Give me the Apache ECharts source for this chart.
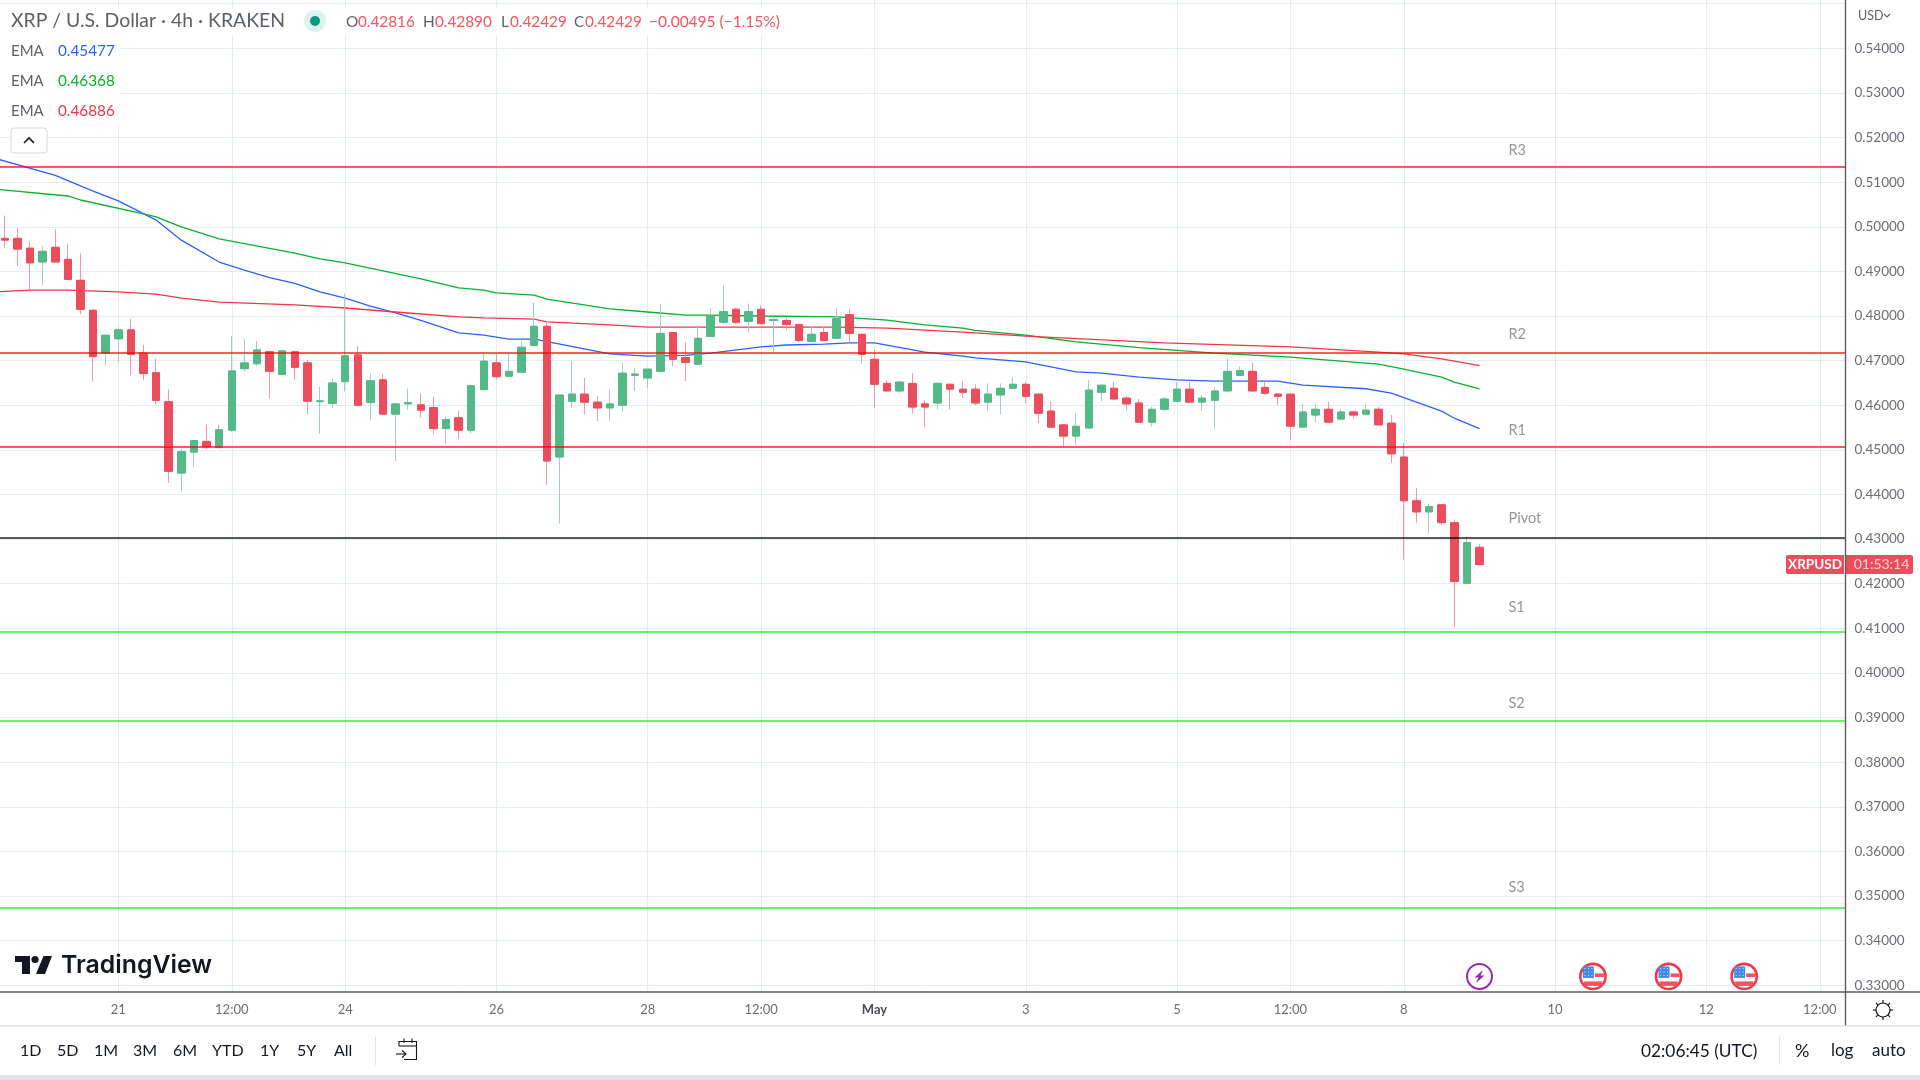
<!DOCTYPE html>
<html>
<head>
<meta charset="utf-8">
<title>XRP / U.S. Dollar</title>
<script src="https://cdn.jsdelivr.net/npm/echarts@6/dist/echarts.min.js"></script>
<style>
  html, body { margin: 0; padding: 0; background: #fff; }
  #main { width: 1920px; height: 1080px; }
</style>
</head>
<body>
<div id="main"></div>
<script>
// 4h candles (index 0 is the first candle on the left)
const candleOpen = [
  .4974,.4974,.4952,.4921,.4954,.4927,.4880,.4813,.4716,.4749,.4769,.4717,.4673,.4608,.4448,.4495,.4519,.4505,.4544,.4682,
  .4693,.4720,.4669,.4720,.4695,.4608,.4604,.4653,.4713,.4606,.4657,.4580,.4603,.4601,.4595,.4548,.4572,.4544,.4635,.4695,
  .4665,.4674,.4734,.4777,.4484,.4609,.4625,.4607,.4594,.4600,.4667,.4661,.4676,.4763,.4707,.4692,.4754,.4786,.4815,.4788,
  .4815,.4790,.4790,.4781,.4743,.4763,.4750,.4803,.4759,.4703,.4649,.4632,.4649,.4603,.4605,.4647,.4636,.4636,.4607,.4623,
  .4638,.4647,.4625,.4587,.4556,.4531,.4549,.4629,.4638,.4616,.4605,.4562,.4591,.4609,.4636,.4607,.4611,.4632,.4667,.4676,
  .4640,.4625,.4625,.4551,.4578,.4591,.4569,.4585,.4580,.4591,.4560,.4484,.4386,.4361,.4377,.4337,.4201,.42816
]
const candleClose = [
  .4970,.4950,.4919,.4945,.4921,.4882,.4815,.4709,.4757,.4769,.4714,.4671,.4611,.4452,.4496,.4521,.4507,.4545,.4677,.4695,
  .4724,.4676,.4722,.4685,.4609,.4610,.4650,.4711,.4600,.4655,.4580,.4603,.4606,.4589,.4548,.4568,.4544,.4644,.4699,.4664,
  .4676,.4730,.4777,.4475,.4623,.4625,.4607,.4594,.4603,.4672,.4670,.4681,.4761,.4703,.4696,.4750,.4801,.4810,.4786,.4810,
  .4783,.4792,.4781,.4745,.4759,.4745,.4794,.4761,.4714,.4647,.4632,.4652,.4596,.4596,.4649,.4636,.4629,.4605,.4625,.4638,
  .4647,.4620,.4582,.4551,.4531,.4553,.4634,.4645,.4614,.4603,.4562,.4591,.4614,.4636,.4607,.4616,.4632,.4676,.4678,.4632,
  .4627,.4620,.4553,.4585,.4591,.4562,.4585,.4578,.4589,.4556,.4491,.4386,.4361,.4373,.4337,.4205,.42924,.42429
]
const candleLow = [
  .4952,.4912,.4858,.4870,.4921,.4880,.4804,.4653,.4689,.4696,.4667,.4656,.4602,.4426,.4408,.4461,.4501,.4505,.4540,.4676,
  .4687,.4615,.4669,.4658,.4580,.4537,.4593,.4631,.4600,.4566,.4580,.4475,.4591,.4573,.4535,.4513,.4524,.4537,.4635,.4658,
  .4665,.4674,.4734,.4422,.4335,.4594,.4580,.4565,.4565,.4585,.4632,.4638,.4676,.4687,.4654,.4690,.4754,.4781,.4781,.4763,
  .4781,.4719,.4768,.4741,.4743,.4745,.4748,.4741,.4694,.4594,.4632,.4627,.4582,.4551,.4591,.4591,.4616,.4600,.4587,.4580,
  .4638,.4605,.4560,.4551,.4507,.4511,.4549,.4609,.4611,.4589,.4562,.4553,.4587,.4609,.4607,.4587,.4547,.4632,.4667,.4632,
  .4623,.4600,.4522,.4551,.4562,.4562,.4569,.4571,.4580,.4556,.4471,.4254,.4337,.4312,.4332,.4103,.4201,.42429
]
const candleHigh = [
  .5025,.4998,.4967,.4956,.4994,.4963,.4940,.4813,.4757,.4775,.4793,.4735,.4704,.4635,.4502,.4523,.4557,.4557,.4755,.4749,
  .4744,.4722,.4722,.4722,.4702,.4641,.4659,.4850,.4733,.4670,.4670,.4605,.4637,.4626,.4619,.4574,.4588,.4644,.4717,.4715,
  .4716,.4745,.4830,.4788,.4623,.4699,.4661,.4620,.4636,.4694,.4683,.4681,.4826,.4763,.4741,.4779,.4817,.4868,.4819,.4828,
  .4824,.4797,.4795,.4781,.4777,.4777,.4817,.4815,.4759,.4725,.4656,.4654,.4672,.4611,.4652,.4649,.4654,.4647,.4649,.4649,
  .4663,.4652,.4625,.4609,.4558,.4582,.4656,.4645,.4652,.4620,.4614,.4596,.4618,.4652,.4652,.4623,.4640,.4705,.4687,.4696,
  .4652,.4627,.4625,.4603,.4603,.4607,.4591,.4587,.4603,.4596,.4578,.4515,.4415,.4379,.4379,.4344,.4306,.42890
]

// EMA lines: candle index and value where the line could be read
const emaBlueIdx = [-1,4,7,9,12,14,17,19,21,23,25,27,29,31,33,36,38,40,42,48,51,54,56,60,62,65,67,69,73,76,77,81,85,87,90,93,96,101,103,108,110,114,115,117]
const emaBlue = [.5155,.5115,.5080,.5058,.5015,.4970,.4921,.4903,.4886,.4873,.4854,.4840,.4822,.4807,.4790,.4762,.4757,.4748,.4748,.4715,.4710,.4712,.4717,.4731,.4735,.4737,.4740,.4740,.4719,.4710,.4706,.4697,.4675,.4672,.4663,.4657,.4654,.4654,.4645,.4637,.4627,.4587,.4571,.45477]
const emaGreenIdx = [-1,5,6,11,12,14,17,23,25,27,30,33,36,38,39,42,43,48,51,54,56,60,66,70,73,76,77,81,85,90,96,102,109,111,114,115,117]
const emaGreen = [.5085,.5069,.5060,.5029,.5022,.5000,.4973,.4941,.4928,.4919,.4901,.4883,.4863,.4858,.4852,.4847,.4838,.4816,.4809,.4802,.4802,.4800,.4798,.4791,.4780,.4773,.4768,.4757,.4742,.4729,.4717,.4708,.4692,.4681,.4663,.4652,.46368]
const emaRedIdx = [-1,2,5,9,12,14,17,23,27,31,36,38,42,43,48,51,57,66,70,76,77,81,92,102,109,111,114,117]
const emaRed = [.4854,.4858,.4858,.4854,.4849,.4840,.4831,.4825,.4818,.4809,.4798,.4796,.4793,.4787,.4780,.4775,.4775,.4775,.4773,.4764,.4762,.4755,.4740,.4731,.4719,.4715,.4704,.46886]

// pivot levels and where their names sit
const levelNames = ['R3', 'R2', 'R1', 'Pivot', 'S1', 'S2', 'S3']
const levelPrices = [.5135, .4717, .4506, .4303, .4093, .3892, .3473]
const levelNamePrices = [.5172, .4760, .4544, .4347, .4148, .3933, .3519]
const levelNameIdx = 119.3

// axis ticks
const priceGrid = [.33,.34,.35,.36,.37,.38,.39,.40,.41,.42,.43,.44,.45,.46,.47,.48,.49,.50,.51,.52,.53,.54,.55]
const priceLabels = [.33,.34,.35,.36,.37,.38,.39,.40,.41,.42,.43,.44,.45,.46,.47,.48,.49,.50,.51,.52,.53,.54]
const timeTickIdx = [9, 18, 27, 39, 51, 60, 69, 81, 93, 102, 111, 123, 135, 144]
const timeTickLabels = ['21', '12:00', '24', '26', '28', '12:00', 'May', '3', '5', '12:00', '8', '10', '12', '12:00']

// economic calendar markers under the candles
const eventIdx = [117, 126, 132, 138]
const eventKinds = [0, 1, 1, 1]
const eventPrice = .3320

const FONT = 'Lato, "Noto Sans", sans-serif'
const TOP_Z = 100

const chart = echarts.init(document.getElementById('main'))

const candleIdx = candleOpen.map((_, i) => i)
const wickData = candleIdx.map(i => [i, candleOpen[i], candleClose[i], candleLow[i], candleHigh[i]])
const bodyData = candleIdx.map(i => [
  i, candleOpen[i], candleClose[i],
  Math.min(candleOpen[i], candleClose[i]), Math.max(candleOpen[i], candleClose[i])
])

const pairUp = (xs, ys) => xs.map((x, i) => [x, ys[i]])

const levelColor = (name) => {
  if (name[0] === 'R') return 'rgba(255,0,0,0.65)'
  if (name[0] === 'S') return 'rgba(0,240,0,0.6)'
  return 'rgba(0,0,0,0.65)'
}

const emaSeries = (name, color, xs, ys) => ({
  name,
  type: 'line',
  data: pairUp(xs, ys),
  symbol: 'none',
  z: 2,
  silent: true,
  lineStyle: { color, width: 1.3 }
})

// chrome helpers
const text = (str, x, y, fontSize, fill, extra) => ({
  type: 'text',
  x,
  y,
  z: TOP_Z,
  silent: true,
  style: Object.assign({ text: str, fontSize, fontFamily: FONT, fill, align: 'left', verticalAlign: 'middle' }, extra || {})
})
const box = (x, y, width, height, fill, extra) => ({
  type: 'rect',
  z: TOP_Z - 1,
  silent: true,
  shape: Object.assign({ x, y, width, height }, (extra && extra.shape) || {}),
  style: Object.assign({ fill }, (extra && extra.style) || {})
})
const seg = (x1, y1, x2, y2, stroke, lineWidth) => ({
  type: 'line',
  z: TOP_Z,
  silent: true,
  shape: { x1, y1, x2, y2 },
  style: { stroke, lineWidth: lineWidth || 1 }
})
const poly = (points, fill) => ({ type: 'polygon', z: TOP_Z, silent: true, shape: { points }, style: { fill } })
const path = (points, stroke, lineWidth) => ({
  type: 'polyline', z: TOP_Z, silent: true, shape: { points }, style: { stroke, lineWidth: lineWidth || 1, fill: null }
})

const RED_TEXT = '#f7525f'
const GRAY_TEXT = '#5d606b'
const DARK_TEXT = '#131722'

const rangeButtons = [['1D', 20], ['5D', 57], ['1M', 94], ['3M', 133], ['6M', 173], ['YTD', 212], ['1Y', 260], ['5Y', 297], ['All', 334]]

const gearRays = [0, 1, 2, 3, 4, 5, 6, 7].map(k => {
  const a = k * Math.PI / 4
  return seg(1883 + 7 * Math.cos(a), 1010 + 7 * Math.sin(a), 1883 + 10 * Math.cos(a), 1010 + 10 * Math.sin(a), DARK_TEXT, 1.2)
})

const chrome = [
  // white backing of the legend
  box(0, 8, 795, 27, 'rgba(255,255,255,0.92)'),
  box(0, 36, 120, 90, 'rgba(255,255,255,0.92)'),

  text('XRP / U.S. Dollar · 4h · KRAKEN', 11, 21, 19.4, GRAY_TEXT),
  { type: 'circle', z: TOP_Z, silent: true, shape: { cx: 315, cy: 21, r: 11 }, style: { fill: '#dff1ee' } },
  { type: 'circle', z: TOP_Z, silent: true, shape: { cx: 315, cy: 21, r: 5 }, style: { fill: '#089981' } },
  text('O', 346, 22, 15.3, GRAY_TEXT),
  text('0.42816', 358, 22, 15.3, RED_TEXT),
  text('H', 423, 22, 15.3, GRAY_TEXT),
  text('0.42890', 435, 22, 15.3, RED_TEXT),
  text('L', 501, 22, 15.3, GRAY_TEXT),
  text('0.42429', 510, 22, 15.3, RED_TEXT),
  text('C', 574, 22, 15.3, GRAY_TEXT),
  text('0.42429', 585, 22, 15.3, RED_TEXT),
  text('−0.00495 (−1.15%)', 649, 22, 15.5, RED_TEXT),

  text('EMA', 11, 51, 15, GRAY_TEXT),
  text('0.45477', 58, 51, 15.3, '#2962ff'),
  text('EMA', 11, 81, 15, GRAY_TEXT),
  text('0.46368', 58, 81, 15.3, '#09b02a'),
  text('EMA', 11, 111, 15, GRAY_TEXT),
  text('0.46886', 58, 111, 15.3, '#f23645'),

  // collapse button
  box(11, 128, 36, 25, '#fff', { shape: { r: 3 }, style: { stroke: '#d6d8e0', lineWidth: 1 } }),
  path([[24, 143], [29, 138], [34, 143]], DARK_TEXT, 1.6),

  // logo
  poly([[15, 956], [30, 956], [30, 974], [22, 974], [22, 962], [15, 962]], DARK_TEXT),
  { type: 'circle', z: TOP_Z, silent: true, shape: { cx: 35, cy: 959.5, r: 3.6 }, style: { fill: DARK_TEXT } },
  poly([[43.5, 956], [52, 956], [45, 974], [36, 974]], DARK_TEXT),
  text('TradingView', 61, 966, 24.8, DARK_TEXT, { fontFamily: 'Inter, Roboto, sans-serif', fontWeight: 600 }),

  // axis frame
  seg(0, 992, 1920, 992, '#5d5d5d', 1.4),
  seg(1845.5, 0, 1845.5, 1026, '#5d5d5d', 1.4),
  seg(0, 1026, 1920, 1026, '#e0e3eb', 1.4),
  box(0, 1075, 1920, 5, '#e0e3eb'),

  text('USD', 1858, 16, 12.5, GRAY_TEXT),
  path([[1884, 14], [1887, 17], [1890, 14]], GRAY_TEXT, 1.1),

  // last price tag
  box(1786, 555, 58, 19, '#eb4d5c', { shape: { r: [2, 0, 0, 2] } }),
  text('XRPUSD', 1815, 564.5, 13.5, '#fff', { align: 'center', fontWeight: 700 }),
  box(1846, 555, 67, 19, '#eb4d5c', { shape: { r: [0, 2, 2, 0] } }),
  text('01:53:14', 1881.5, 564.5, 14, '#fbd5d9', { align: 'center' }),

  // settings gear
  { type: 'circle', z: TOP_Z, silent: true, shape: { cx: 1883, cy: 1010, r: 7 }, style: { fill: '#fff', stroke: DARK_TEXT, lineWidth: 1.2 } },
  ...gearRays,

  // bottom toolbar
  ...rangeButtons.map(([label, x]) => text(label, x, 1051, 16, DARK_TEXT)),
  seg(375.5, 1037, 375.5, 1065, '#e0e3eb', 1),
  path([[399, 1046], [399, 1041.5], [416.5, 1041.5], [416.5, 1059.5], [404, 1059.5]], DARK_TEXT, 1.1),
  seg(399, 1046, 416.5, 1046, DARK_TEXT, 1.1),
  seg(404, 1038.5, 404, 1043, DARK_TEXT, 1.1),
  seg(412, 1038.5, 412, 1043, DARK_TEXT, 1.1),
  seg(396, 1054, 406, 1054, DARK_TEXT, 1.1),
  path([[402, 1050.5], [406, 1054], [402, 1057.5]], DARK_TEXT, 1.1),
  text('02:06:45 (UTC)', 1641, 1051, 17.3, DARK_TEXT),
  seg(1779.5, 1037, 1779.5, 1065, '#e0e3eb', 1),
  text('%', 1795, 1051, 18, DARK_TEXT),
  text('log', 1831, 1051, 17, DARK_TEXT),
  text('auto', 1872, 1051, 17, DARK_TEXT)
]

// draws one marker of the economic calendar
const renderEvent = (params, api) => {
  const [cx, cy] = api.coord([api.value(0), api.value(1)])
  const kind = api.value(2)
  const at = (x, y, width, height, fill) => ({
    type: 'rect', shape: { x: cx + x, y: cy + y, width, height }, style: { fill }
  })
  const children = []
  if (kind === 0) {
    children.push({ type: 'circle', shape: { cx, cy, r: 12.5 }, style: { fill: '#fff', stroke: '#9c27b0', lineWidth: 2 } })
    children.push({
      type: 'polygon',
      shape: { points: [[3.5, -6.5], [-5, 1], [-1, 1], [-3.5, 6.5], [5, -1], [1, -1]].map(p => [cx + p[0], cy + p[1]]) },
      style: { fill: '#9c27b0' }
    })
  } else {
    children.push({ type: 'circle', shape: { cx, cy, r: 12.6 }, style: { fill: '#fff', stroke: '#f0394a', lineWidth: 2.6 } })
    children.push(at(-10, -10, 11, 11.5, '#3f8be8'))
    // star dots on the canton
    for (let row = 0; row < 3; row++) {
      for (let col = 0; col < 3; col++) {
        children.push(at(-8.5 + col * 3.5, -8.5 + row * 3.5, 1, 1, '#cfe3fb'))
      }
    }
    children.push(at(2, -3, 9, 3.6, '#f1535f'))
    children.push(at(-9, 5, 18, 4.5, '#f1535f'))
  }
  return { type: 'group', children }
}

const option = {
  animation: false,
  backgroundColor: '#fff',
  grid: { left: 0, top: 0, width: 1845.5, height: 992 },
  xAxis: {
    type: 'value',
    min: -0.389,
    max: 146.04,
    axisLine: { show: false },
    axisTick: { show: false, customValues: timeTickIdx },
    splitLine: { show: true, lineStyle: { color: '#e3ecf3', width: 1 } },
    axisLabel: {
      customValues: timeTickIdx,
      margin: 11,
      color: '#6a6d78',
      fontSize: 13,
      fontFamily: FONT,
      hideOverlap: false,
      formatter: (v) => {
        const label = timeTickLabels[timeTickIdx.indexOf(v)]
        return label === 'May' ? '{b|May}' : label
      },
      rich: { b: { fontWeight: 700, fontSize: 13, color: '#4a4d58', fontFamily: FONT } }
    }
  },
  yAxis: {
    type: 'value',
    position: 'right',
    min: 0.32851,
    max: 0.55082,
    scale: true,
    axisLine: { show: false },
    axisTick: { show: false, customValues: priceGrid },
    splitLine: { show: true, lineStyle: { color: '#e3ecf3', width: 1 } },
    axisLabel: {
      customValues: priceLabels,
      margin: 9,
      color: '#6a6d78',
      fontSize: 13.5,
      fontFamily: FONT,
      formatter: (v) => v.toFixed(5)
    }
  },
  graphic: { elements: chrome },
  series: [
    emaSeries('EMA blue', '#2962ff', emaBlueIdx, emaBlue),
    emaSeries('EMA green', '#09b02a', emaGreenIdx, emaGreen),
    emaSeries('EMA red', '#f23645', emaRedIdx, emaRed),
    {
      name: 'wicks',
      type: 'candlestick',
      data: wickData,
      barWidth: 6,
      z: 3,
      silent: true,
      itemStyle: { color: '#a6c9c9', color0: '#f797a5', borderColor: '#a6c9c9', borderColor0: '#f797a5', borderWidth: 1 }
    },
    {
      name: 'bodies',
      type: 'candlestick',
      data: bodyData,
      barWidth: 8,
      z: 4,
      silent: true,
      itemStyle: { color: '#53b987', color0: '#eb4d5c', borderColor: '#53b987', borderColor0: '#eb4d5c', borderWidth: 1 }
    },
    {
      name: 'levels',
      type: 'line',
      data: [],
      z: 5,
      silent: true,
      markLine: {
        silent: true,
        symbol: 'none',
        animation: false,
        precision: 5,
        label: { show: false },
        data: levelNames.map((name, i) => ({
          yAxis: levelPrices[i],
          lineStyle: { color: levelColor(name), width: 2, type: 'solid' }
        }))
      }
    },
    {
      name: 'level names',
      type: 'scatter',
      symbolSize: 0,
      z: 6,
      silent: true,
      data: levelNames.map((name, i) => ({ name, value: [levelNameIdx, levelNamePrices[i]] })),
      label: {
        show: true,
        position: 'right',
        distance: 0,
        formatter: '{b}',
        color: '#787b86',
        fontSize: 14.5,
        fontFamily: FONT
      }
    },
    {
      name: 'events',
      type: 'custom',
      clip: false,
      z: 7,
      silent: true,
      data: eventIdx.map((x, i) => [x, eventPrice, eventKinds[i]]),
      encode: { x: 0, y: 1 },
      renderItem: renderEvent
    }
  ]
}

chart.setOption(option)
</script>
</body>
</html>
